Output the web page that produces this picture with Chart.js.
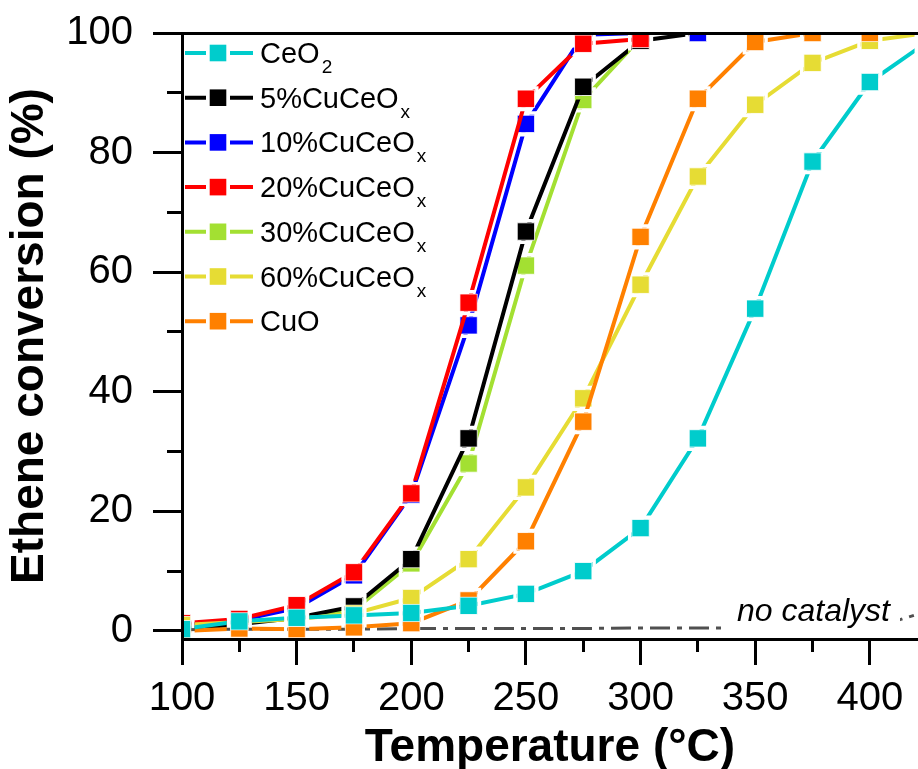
<!DOCTYPE html>
<html>
<head>
<meta charset="utf-8">
<script src="https://cdn.jsdelivr.net/npm/chart.js@4"></script>
<style>
  html, body { margin: 0; padding: 0; background: #ffffff; }
  canvas { display: block; }
</style>
</head>
<body>
<canvas id="chart" width="918" height="769"></canvas>
<script>
// ---------------- data ----------------
const temperatures = [100, 125, 150, 175, 200, 225, 250, 275, 300, 325, 350, 375, 400, 425];

const ceo2Values  = [0.3, 1.6, 2.2, 2.6, 3.0, 4.2, 6.2, 10.0, 17.2, 32.2, 53.9, 78.5, 91.8, 98.5];
const cu5Values   = [0.3, 1.1, 2.2, 4.1, 12.0, 32.2, 66.8, 91.0, 98.7, 100, 100, null, null, null];
const cu10Values  = [1.0, 1.8, 3.8, 9.3, 22.8, 51.1, 84.8, 99.7, 100, 100, null, null, null, null];
const cu20Values  = [1.3, 2.0, 4.3, 9.8, 23.0, 54.9, 89.0, 98.2, 99.0, null, null, null, null, null];
const cu30Values  = [0.8, 1.5, 2.0, 3.5, 11.3, 28.0, 61.1, 88.8, 99.2, null, null, null, null, null];
const cu60Values  = [1.0, 1.5, 2.0, 2.9, 5.5, 12.0, 24.0, 38.9, 57.9, 76.0, 88.0, 95.0, 98.7, 100];
const cuoValues   = [0.0, 0.4, 0.3, 0.6, 1.3, 5.1, 15.0, 35.0, 65.9, 89.0, 98.5, 100, 100, 100];
const noCatalystValues = [0.2, 0.3, 0.3, 0.3, 0.4, 0.4, 0.4, 0.4, 0.5, 0.5, 0.5, 0.4, 0.3, 3.3];

const seriesLabels = ['CeO₂', '5%CuCeOₓ', '10%CuCeOₓ', '20%CuCeOₓ', '30%CuCeOₓ', '60%CuCeOₓ', 'CuO'];
const legendMainText = ['CeO', '5%CuCeO', '10%CuCeO', '20%CuCeO', '30%CuCeO', '60%CuCeO', 'CuO'];
const legendSubText  = ['2', 'x', 'x', 'x', 'x', 'x', ''];
const seriesValues = [ceo2Values, cu5Values, cu10Values, cu20Values, cu30Values, cu60Values, cuoValues];
const noCatalystLabel = 'no catalyst';

const xTitle = 'Temperature (°C)';
const yTitle = 'Ethene conversion (%)';

// ---------------- styles ----------------
const FONT = "'Liberation Sans', Arial, Helvetica, sans-serif";
const seriesColors = ['#00cccc', '#000000', '#0000ff', '#ff0000', '#a3e032', '#e6dc34', '#ff8000'];
const drawOrder = [1, 6, 5, 4, 7, 3, 2]; // lower = drawn on top
const MARK_R = 12.3;      // rect marker radius (half side = r*0.7071)
const GAP_IN = 9.2;       // half-size of marker incl. border
const GAP_OUT = 12.6;     // line stops this far from the point centre

function toPoints(vals) {
  const out = [];
  temperatures.forEach((t, i) => {
    if (vals[i] !== null && vals[i] !== undefined) out.push({ x: t, y: vals[i] });
  });
  return out;
}

const datasets = seriesValues.map((vals, i) => ({
  label: seriesLabels[i],
  data: toPoints(vals),
  borderColor: seriesColors[i],
  backgroundColor: seriesColors[i],
  pointBackgroundColor: seriesColors[i],
  pointBorderColor: 'rgba(255,255,255,0.85)',
  pointBorderWidth: 1,
  pointStyle: 'rect',
  pointRadius: MARK_R,
  pointHoverRadius: MARK_R,
  borderWidth: 4,
  tension: 0,
  clip: 0,
  order: drawOrder[i],
  gapAroundPoints: true
}));

datasets.push({
  label: noCatalystLabel,
  data: toPoints(noCatalystValues),
  borderColor: '#505050',
  borderWidth: 3,
  borderDash: [20, 7, 5, 7],
  pointRadius: 0,
  pointHoverRadius: 0,
  tension: 0,
  clip: 0,
  order: 8
});

// clip a square ring around each point of a dataset so its line stops short of the marker
const gapPlugin = {
  id: 'markerGaps',
  beforeDatasetDraw(chart, args) {
    const ds = chart.data.datasets[args.index];
    if (!ds.gapAroundPoints) return;
    const ctx = chart.ctx;
    const p = new Path2D();
    p.rect(0, 0, chart.width, chart.height);
    args.meta.data.forEach(pt => {
      const { x, y } = pt.getProps(['x', 'y'], true);
      p.rect(x - GAP_OUT, y - GAP_OUT, 2 * GAP_OUT, 2 * GAP_OUT);
      p.rect(x - GAP_IN, y - GAP_IN, 2 * GAP_IN, 2 * GAP_IN);
    });
    ctx.save();
    ctx.clip(p, 'evenodd');
  },
  afterDatasetDraw(chart, args) {
    const ds = chart.data.datasets[args.index];
    if (!ds.gapAroundPoints) return;
    chart.ctx.restore();
  }
};

const noteLabelPlugin = {
  id: 'noteLabel',
  afterDatasetsDraw(chart) {
    const ctx = chart.ctx;
    ctx.save();
    ctx.fillStyle = '#ffffff';
    ctx.fillRect(727, 597, 173, 37);
    ctx.fillStyle = '#000000';
    ctx.font = 'italic 32px ' + FONT;
    ctx.textBaseline = 'alphabetic';
    ctx.textAlign = 'left';
    ctx.fillText(noCatalystLabel, 737, 621);
    ctx.restore();
  }
};

const legendPlugin = {
  id: 'customLegend',
  afterDraw(chart) {
    const ctx = chart.ctx;
    ctx.save();
    legendMainText.forEach((txt, i) => {
      const y = 53 + i * 44.7;
      const c = seriesColors[i];
      ctx.strokeStyle = c;
      ctx.lineWidth = 4;
      ctx.lineCap = 'butt';
      ctx.beginPath();
      ctx.moveTo(185, y); ctx.lineTo(206, y);
      ctx.moveTo(230, y); ctx.lineTo(253, y);
      ctx.stroke();
      ctx.fillStyle = c;
      ctx.fillRect(218 - 8.3, y - 8.3, 16.6, 16.6);
      ctx.fillStyle = '#000000';
      ctx.textBaseline = 'alphabetic';
      ctx.textAlign = 'left';
      ctx.font = '29px ' + FONT;
      ctx.fillText(txt, 260, y + 10);
      const w = ctx.measureText(txt).width;
      if (legendSubText[i]) {
        ctx.font = '19px ' + FONT;
        ctx.fillText(legendSubText[i], 260 + w + 2, y + 20);
      }
    });
    ctx.restore();
  }
};

function noPad(s) { s.paddingTop = 0; s.paddingBottom = 0; s.paddingLeft = 0; s.paddingRight = 0; }

const X_MIN = 100, X_MAX = 421, Y_MIN = -1.35, Y_MAX = 100;

new Chart(document.getElementById('chart'), {
  type: 'line',
  data: { datasets },
  plugins: [gapPlugin, noteLabelPlugin, legendPlugin],
  options: {
    responsive: false,
    animation: false,
    events: [],
    layout: { autoPadding: false, padding: { top: 33, left: 0, right: 0, bottom: 0 } },
    plugins: { legend: { display: false }, tooltip: { enabled: false } },
    scales: {
      x: {
        type: 'linear', position: 'bottom', weight: 10,
        min: X_MIN, max: X_MAX,
        ticks: {
          stepSize: 50, includeBounds: false, autoSkip: false, maxRotation: 0,
          padding: 10, color: '#000', font: { family: FONT, size: 40 }
        },
        grid: { display: true, drawOnChartArea: false, drawTicks: true, tickLength: 26, tickWidth: 3, lineWidth: 3, tickColor: '#000' },
        border: { display: true, width: 3, color: '#000', z: 1 },
        title: {
          display: true, text: xTitle, color: '#000',
          font: { family: FONT, size: 46, weight: 'bold', lineHeight: 0.8 },
          padding: { top: 0, bottom: 2 }
        },
        afterFit(s) { s.height = 130; noPad(s); }
      },
      xMinor: {
        type: 'linear', position: 'bottom', weight: 0,
        min: X_MIN, max: X_MAX,
        ticks: { display: false, stepSize: 25, includeBounds: false, autoSkip: false },
        grid: { display: true, drawOnChartArea: false, drawTicks: true, tickLength: 13, tickWidth: 3, lineWidth: 3, tickColor: '#000' },
        border: { display: false },
        afterFit(s) { s.height = 0; noPad(s); }
      },
      xTop: {
        type: 'linear', position: 'top',
        min: X_MIN, max: X_MAX,
        ticks: { display: false },
        grid: { display: true, drawOnChartArea: false, drawTicks: false },
        border: { display: true, width: 3, color: '#000', z: 1 },
        afterFit(s) { s.height = 0; noPad(s); }
      },
      y: {
        type: 'linear', position: 'left', weight: 10,
        min: Y_MIN, max: Y_MAX,
        ticks: {
          stepSize: 20, includeBounds: false, autoSkip: false,
          padding: 20, color: '#000', font: { family: FONT, size: 40 }
        },
        grid: { display: true, drawOnChartArea: false, drawTicks: true, tickLength: 29, tickWidth: 3, lineWidth: 3, tickColor: '#000' },
        border: { display: true, width: 3, color: '#000', z: 1 },
        title: {
          display: true, text: yTitle, color: '#000',
          font: { family: FONT, size: 46, weight: 'bold', lineHeight: 1.2 },
          padding: { top: 3, bottom: 0 }
        },
        afterFit(s) { s.width = 182; noPad(s); }
      },
      yMinor: {
        type: 'linear', position: 'left', weight: 0,
        min: Y_MIN, max: Y_MAX,
        ticks: { display: false, stepSize: 10, includeBounds: false, autoSkip: false },
        grid: { display: true, drawOnChartArea: false, drawTicks: true, tickLength: 15, tickWidth: 3, lineWidth: 3, tickColor: '#000' },
        border: { display: false },
        afterFit(s) { s.width = 0; noPad(s); }
      }
    }
  }
});
</script>
</body>
</html>
